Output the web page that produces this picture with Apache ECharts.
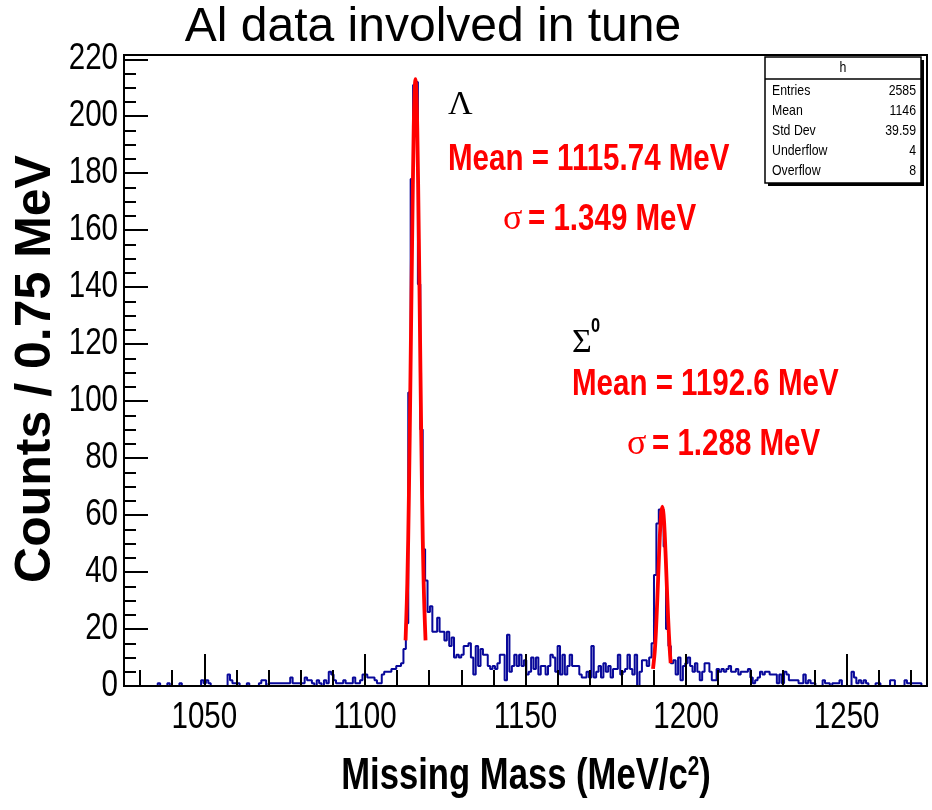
<!DOCTYPE html>
<html><head><meta charset="utf-8">
<script src="https://cdn.jsdelivr.net/npm/echarts@6/dist/echarts.min.js"></script>
<style>html,body{margin:0;padding:0;background:#fff}#c{width:932px;height:810px}</style>
</head><body><div id="c"></div>
<script>
// ---- data ----
const binStart = 1025;      // MeV, lower edge of first bin
const binWidth = 0.75;      // MeV per bin
// counts per 0.75 MeV bin
const counts1025 = [0,0,0,0,0,0,0,0,0,0, 0,0,0,0,1,0,0,0,1,0, 0,0,0,1,0,0,0,0,0,0,
                    0,0,2,1,2,1,0,0,0,0, 0,0,0,4,2,1,1,1,0,0, 0,1,0,0,0,0,1,2,2,0];
const counts1070 = [1,1,1,1,1,1,1,1,1,3, 1,1,1,1,1,3,2,2,1,0, 2,1,0,2,1,5,4,2,1,1,
                    1,2,1,1,1,3,1,1,2,4, 4,3,3,3,2,1,1,4,5,5, 5,6,6,7,7,8,13,22,103,178];
const counts1115 = [211,212,141,90,48,37,26,28,19,19, 24,19,19,16,19,14,17,10,11,10,
                    11,14,14,15,10,4,14,7,13,11, 11,7,6,7,6,8,11,11,2,18,
                    5,7,11,7,11,7,9,4,5,10, 6,10,4,7,7,4,7,11,10,5];
const counts1160 = [14,4,11,4,7,11,7,7,7,4, 3,3,5,3,14,3,5,7,3,8, 5,7,3,6,6,11,4,5,6,11,
                    6,4,11,0,5,9,9,7,10,15, 39,57,62,62,49,20,14,8,9,4, 10,2,7,8,10,7,5,8,5,2];
const counts1205 = [5,8,8,5,2,2,6,5,6,5, 6,7,5,5,6,4,5,5,5,6, 3,1,2,3,5,4,5,5,4,4,
                    4,1,4,1,5,4,2,2,2,2, 1,1,4,1,2,1,1,0,0,0, 2,1,1,0,1,1,1,2,0,0];
const counts1250 = [0,0,5,3,1,2,1,2,1,0, 0,0,1,1,0,0,0,0,2,2, 0,0,0,0,2,1,1,1,1,1, 1,0,0];

// fitted curves (red lines)
const lambdaFitX = [1112.66,1113.2,1113.7,1114.2,1114.7,1115.2,1115.5,1115.74,1116.0,1116.3,1116.8,1117.3,1117.8,1118.3,1118.88];
const lambdaFitY = [16,36,67,110,156,196,209,213,209,196,157,110,67,36,16];
const sigmaFitX = [1189.7,1190.3,1190.8,1191.3,1191.8,1192.2,1192.6,1193.0,1193.4,1193.9,1194.4,1194.9,1195.2];
const sigmaFitY = [6,13,24,38,52,60,63,60,52,38,24,13,8];

const xMajorTicks = [1050,1100,1150,1200,1250];
const xMinorTicks = [1030,1040,1060,1070,1080,1090,1110,1120,1130,1140,1160,1170,1180,1190,1210,1220,1230,1240,1260,1270];
const yMajorTicks = [0,20,40,60,80,100,120,140,160,180,200,220];
const yMinorTicks = [5,10,15,25,30,35,45,50,55,65,70,75,85,90,95,105,110,115,125,130,135,145,150,155,165,170,175,185,190,195,205,210,215];

const statsLabels = ['Entries','Mean','Std Dev','Underflow','Overflow'];
const statsValues = ['2585','1146','39.59','4','8'];

// ---- build ----
const counts = [].concat(counts1025, counts1070, counts1115, counts1160, counts1205, counts1250);
const histData = counts.map((c, i) => [binStart + i * binWidth, c]);
histData.push([binStart + counts.length * binWidth, counts[counts.length - 1]]);
const lambdaFit = lambdaFitX.map((x, i) => [x, lambdaFitY[i]]);
const sigmaFit = sigmaFitX.map((x, i) => [x, sigmaFitY[i]]);

const SANS = "'Liberation Sans',Arial,sans-serif";
const SERIF = "'Liberation Serif','Times New Roman',serif";
const NARROW_SCALE = 0.82;   // Arial Narrow ~ Arial compressed horizontally

function txt(text, x, y, font, fill, align, extra) {
  return Object.assign({
    type: 'text', x: x, y: y, z: 100,
    style: { text: text, font: font, fill: fill || '#000',
             textAlign: align || 'left', align: align || 'left',
             textVerticalAlign: 'middle', verticalAlign: 'middle' }
  }, extra || {});
}
function ntxt(text, x, y, font, fill, align) {
  return txt(text, x, y, font, fill, align, { scaleX: NARROW_SCALE, scaleY: 1 });
}

const graphics = [
  txt('Al data involved in tune', 433, 28, "48px " + SANS, '#000', 'center'),
  txt('Counts / 0.75 MeV', 36, 369, "bold 50px " + SANS, '#000', 'center', { rotation: Math.PI / 2 }),
  {
    type: 'text', x: 526, y: 777, z: 100, scaleX: 0.77,
    style: {
      text: '{a|Missing Mass (MeV/c}{s|2}{a|)}',
      textAlign: 'center', align: 'center', textVerticalAlign: 'middle', verticalAlign: 'middle',
      rich: {
        a: { font: "bold 45px " + SANS, fill: '#000', color: '#000' },
        s: { font: "bold 27px " + SANS, fill: '#000', color: '#000', verticalAlign: 'top' }
      }
    }
  },
  txt('Λ', 448, 105, "34px " + SERIF, '#000'),
  ntxt('Mean = 1115.74 MeV', 448, 160, "bold 36px " + SANS, '#ff0000'),
  txt('σ', 503, 220, "36px " + SERIF, '#ff0000'),
  ntxt('= 1.349 MeV', 528, 220, "bold 36px " + SANS, '#ff0000'),
  txt('Σ', 572, 343, "34px " + SERIF, '#000'),
  ntxt('0', 591, 326, "bold 20px " + SANS, '#000'),
  ntxt('Mean = 1192.6 MeV', 572, 385, "bold 36px " + SANS, '#ff0000'),
  txt('σ', 627, 445, "36px " + SERIF, '#ff0000'),
  ntxt('= 1.288 MeV', 652, 445, "bold 36px " + SANS, '#ff0000'),
  // stats box
  { type: 'rect', z: 90, shape: { x: 768, y: 60, width: 156, height: 126 }, style: { fill: '#000' } },
  { type: 'rect', z: 91, shape: { x: 765, y: 57, width: 156, height: 126 }, style: { fill: '#fff', stroke: '#000', lineWidth: 1.5 } },
  { type: 'line', z: 92, shape: { x1: 765, y1: 79, x2: 921, y2: 79 }, style: { stroke: '#000', lineWidth: 1.5 } },
  ntxt('h', 843, 68, "15px " + SANS, '#000', 'center')
];
statsLabels.forEach((lab, i) => {
  graphics.push(ntxt(lab, 772, 91 + i * 20, "15px " + SANS, '#000', 'left'));
  graphics.push(ntxt(statsValues[i], 916, 91 + i * 20, "15px " + SANS, '#000', 'right'));
});

const axisBlack = { color: '#000', width: 2 };
const option = {
  animation: false,
  backgroundColor: '#fff',
  grid: { left: 124, right: 5, top: 55, bottom: 124, show: true, borderColor: '#000', borderWidth: 2, backgroundColor: 'transparent' },
  xAxis: [
    { type: 'value', min: 1025, max: 1275, z: 5, position: 'bottom',
      axisLine: { show: true, onZero: false, lineStyle: axisBlack },
      axisTick: { show: true, inside: true, length: 32, customValues: xMajorTicks, lineStyle: { color: '#000', width: 2 } },
      axisLabel: { show: false },
      splitLine: { show: false } },
    { type: 'value', min: 1025, max: 1275, z: 5, position: 'bottom',
      axisLine: { show: false, onZero: false },
      axisTick: { show: true, inside: true, length: 16, customValues: xMinorTicks, lineStyle: { color: '#000', width: 2 } },
      axisLabel: { show: false },
      splitLine: { show: false } }
  ],
  yAxis: [
    { type: 'value', min: 0, max: 221.5, z: 5, position: 'left',
      axisLine: { show: true, onZero: false, lineStyle: axisBlack },
      axisTick: { show: true, inside: true, length: 24, customValues: yMajorTicks, lineStyle: { color: '#000', width: 2 } },
      axisLabel: { show: false },
      splitLine: { show: false } },
    { type: 'value', min: 0, max: 221.5, z: 5, position: 'left',
      axisLine: { show: false, onZero: false },
      axisTick: { show: true, inside: true, length: 12, customValues: yMinorTicks, lineStyle: { color: '#000', width: 2 } },
      axisLabel: { show: false },
      splitLine: { show: false } }
  ],
  series: [
    { type: 'line', name: 'h', xAxisIndex: 0, yAxisIndex: 0, step: 'end', data: histData,
      symbol: 'none', lineStyle: { color: '#08089a', width: 2 }, z: 2 },
    { type: 'line', name: 'fitL', data: lambdaFit, smooth: 0.4, symbol: 'none',
      lineStyle: { color: '#ff0000', width: 3.8 }, z: 3 },
    { type: 'line', name: 'fitS', data: sigmaFit, smooth: 0.4, symbol: 'none',
      lineStyle: { color: '#ff0000', width: 3.8 }, z: 3 }
  ],
  graphic: graphics
};
const chart = echarts.init(document.getElementById('c'), null, { renderer: 'canvas' });
chart.setOption(option);

// tick labels: placed through the axes' own scales, drawn in a narrow face
const tickLabels = [];
xMajorTicks.forEach(v => {
  const px = chart.convertToPixel({ xAxisIndex: 0 }, v);
  tickLabels.push(ntxt(String(v), px, 718, "36px " + SANS, '#000', 'center'));
});
yMajorTicks.forEach(v => {
  const py = chart.convertToPixel({ yAxisIndex: 0 }, v);
  tickLabels.push(ntxt(String(v), 118, py, "36px " + SANS, '#000', 'right'));
});
chart.setOption({ graphic: graphics.concat(tickLabels) });
</script></body></html>
